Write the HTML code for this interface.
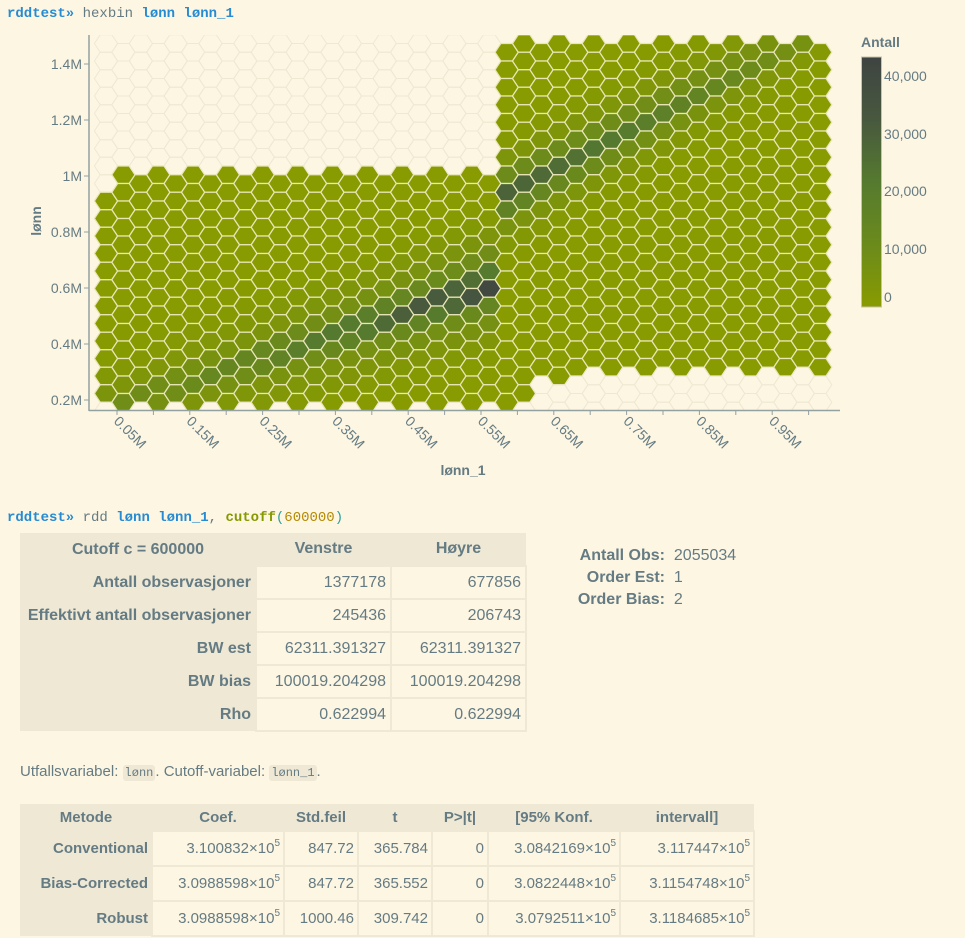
<!DOCTYPE html>
<html><head><meta charset="utf-8">
<style>
body{margin:0;background:#fdf6e3;width:965px;height:938px;overflow:hidden;font-family:"Liberation Sans",sans-serif;color:#657b83;position:relative}
.prompt{position:absolute;left:7px;font-family:"Liberation Mono",monospace;font-size:14px;white-space:pre}
.b{color:#268bd2;font-weight:bold}
.pr{color:#268bd2;font-weight:bold}
table{border-collapse:collapse;position:absolute;table-layout:fixed}
td,th{padding:0 6px;font-size:16px;white-space:nowrap;overflow:hidden}
#t1{left:20px;top:533px;width:506px}
#t1 th{background:#eee8d5;font-weight:600;height:32px;text-align:center}
#t1 td{height:31px;border:2px solid #eee8d5;text-align:right;background:#fdf6e3;padding:0 4px}
#t1 td.l{background:#eee8d5;font-weight:600;border:none}
#t2{left:20px;top:804px;width:734px}
#t2 th{background:#eee8d5;font-weight:600;height:26px;text-align:center;font-size:15px}
#t2 td{height:33px;border:2px solid #eee8d5;text-align:right;background:#fdf6e3;font-size:15px;padding:0 3px}
#t2 td.l{background:#eee8d5;font-weight:600;border:none}
sup{font-size:10px;vertical-align:7px;line-height:0}
code{background:#eee8d5;font-family:"Liberation Mono",monospace;font-size:12px;padding:1px 2px;border-radius:3px}
</style></head><body>
<div class="prompt" style="top:6px"><span class="pr">rddtest»</span> hexbin <span class="b">lønn lønn_1</span></div>
<svg id="plot" width="965" height="500" style="position:absolute;left:0;top:0">
<defs>
<clipPath id="cp"><rect x="90" y="35" width="750" height="375"/></clipPath>
<linearGradient id="cb" x1="0" y1="1" x2="0" y2="0">
<stop offset="0" stop-color="#889b00"/><stop offset="0.25" stop-color="#6b8a1c"/><stop offset="0.5" stop-color="#557a2f"/><stop offset="0.75" stop-color="#48583e"/><stop offset="1" stop-color="#3e4442"/>
</linearGradient>
</defs>
<g id="hex" clip-path="url(#cp)"></g>
<line x1="89" y1="35" x2="89" y2="411" stroke="#93a1a1" stroke-width="1.5"/>
<line x1="89" y1="410.5" x2="840" y2="410.5" stroke="#93a1a1" stroke-width="1.5"/>
<g id="ticks" font-size="14" fill="#657b83" font-family="Liberation Sans, sans-serif"></g>
<text x="0" y="0" transform="translate(41,221) rotate(-90)" text-anchor="middle" font-size="14" font-weight="bold" fill="#657b83">lønn</text>
<text x="463" y="475" text-anchor="middle" font-size="14" font-weight="bold" fill="#657b83">lønn_1</text>
<text x="861" y="47" font-size="14" font-weight="bold" fill="#657b83">Antall</text>
<rect x="861.5" y="57" width="20" height="250" fill="url(#cb)" stroke="#c9c1a9"/>
<g font-size="14" fill="#657b83">
<text x="884" y="81">40,000</text><text x="884" y="139">30,000</text><text x="884" y="196">20,000</text><text x="884" y="254">10,000</text><text x="884" y="302">0</text>
</g>
</svg>
<div class="prompt" style="top:510px"><span class="pr">rddtest»</span> rdd <span class="b">lønn lønn_1</span>, <span style="color:#859900;font-weight:bold">cutoff</span><span style="color:#2aa198">(</span><span style="color:#b58900">600000</span><span style="color:#2aa198">)</span></div>
<table id="t1">
<colgroup><col style="width:236px"><col style="width:135px"><col style="width:135px"></colgroup>
<tr><th>Cutoff c = 600000</th><th>Venstre</th><th>Høyre</th></tr>
<tr><td class="l">Antall observasjoner</td><td>1377178</td><td>677856</td></tr>
<tr><td class="l">Effektivt antall observasjoner</td><td>245436</td><td>206743</td></tr>
<tr><td class="l">BW est</td><td>62311.391327</td><td>62311.391327</td></tr>
<tr><td class="l">BW bias</td><td>100019.204298</td><td>100019.204298</td></tr>
<tr><td class="l">Rho</td><td>0.622994</td><td>0.622994</td></tr>
</table>
<div style="position:absolute;left:560px;top:545px;font-size:16px;line-height:22px">
<div><span style="display:inline-block;width:105px;text-align:right;font-weight:600">Antall Obs:</span> &nbsp;2055034</div>
<div><span style="display:inline-block;width:105px;text-align:right;font-weight:600">Order Est:</span> &nbsp;1</div>
<div><span style="display:inline-block;width:105px;text-align:right;font-weight:600">Order Bias:</span> &nbsp;2</div>
</div>
<div style="position:absolute;left:20px;top:763px;font-size:15px">Utfallsvariabel: <code>lønn</code>. Cutoff-variabel: <code>lønn_1</code>.</div>
<table id="t2">
<colgroup><col style="width:132px"><col style="width:132px"><col style="width:74px"><col style="width:74px"><col style="width:56px"><col style="width:132px"><col style="width:134px"></colgroup>
<tr><th>Metode</th><th>Coef.</th><th>Std.feil</th><th>t</th><th>P&gt;|t|</th><th>[95% Konf.</th><th>intervall]</th></tr>
<tr><td class="l">Conventional</td><td>3.100832×10<sup>5</sup></td><td>847.72</td><td>365.784</td><td>0</td><td>3.0842169×10<sup>5</sup></td><td>3.117447×10<sup>5</sup></td></tr>
<tr><td class="l">Bias-Corrected</td><td>3.0988598×10<sup>5</sup></td><td>847.72</td><td>365.552</td><td>0</td><td>3.0822448×10<sup>5</sup></td><td>3.1154748×10<sup>5</sup></td></tr>
<tr><td class="l">Robust</td><td>3.0988598×10<sup>5</sup></td><td>1000.46</td><td>309.742</td><td>0</td><td>3.0792511×10<sup>5</sup></td><td>3.1184685×10<sup>5</sup></td></tr>
</table>
<script>
(function(){
var NS="http://www.w3.org/2000/svg";
var g=document.getElementById("hex");
var stops=[[0,[0x88,0x9b,0x00]],[0.25,[0x6b,0x8a,0x1c]],[0.5,[0x55,0x7a,0x2f]],[0.75,[0x48,0x58,0x3e]],[1,[0x3e,0x44,0x42]]];
function col(t){t=Math.max(0,Math.min(1,t));for(var i=1;i<stops.length;i++){if(t<=stops[i][0]){var a=stops[i-1],b=stops[i],f=(t-a[0])/(b[0]-a[0]);return "rgb("+[0,1,2].map(function(k){return Math.round(a[1][k]+(b[1][k]-a[1][k])*f)}).join(",")+")";}}return "rgb(62,68,66)";}
function dist(x,y,x1,y1,x2,y2){var dx=x2-x1,dy=y2-y1,L=Math.sqrt(dx*dx+dy*dy);return Math.abs((x-x1)*dy-(y-y1)*dx)/L;}
function val(cx,cy,c){
 if(c<=22){var d=dist(cx,cy,200,378,507,280);var p=Math.max(0,(cx-90)/417);var A=0.2+0.82*Math.pow(p,1.7);
  return A*(0.65*Math.exp(-d*d/(2*9*9))+0.35*Math.exp(-d*d/(2*30*30)));}
 else{var d=dist(cx,cy,524,186,800,40);var A=0.66-0.5*(cx-524)/276;
  return A*(0.65*Math.exp(-d*d/(2*9*9))+0.35*Math.exp(-d*d/(2*24*24)));}
}
var hw=11.6,q=5.8,hh=8.75;
for(var c=0;c<42;c++){
 var cx=106+c*17.42,odd=c%2;
 for(var r=0;r<22;r++){
  var cy=odd?52.25+17.5*r:43.5+17.5*r;
  if(cy-hh>411)continue;
  var green;
  if(c<=22){var top=c==0?9:(odd?7:8);green=r>=top&&r<=20;}
  else{var bot=(c==23||c==24)?20:(c==26?19:18);green=r<=bot;}
  var p=document.createElementNS(NS,"polygon");
  p.setAttribute("points",[(cx-hw)+","+cy,(cx-q)+","+(cy-hh),(cx+q)+","+(cy-hh),(cx+hw)+","+cy,(cx+q)+","+(cy+hh),(cx-q)+","+(cy+hh)].join(" "));
  if(green){p.setAttribute("fill",col(val(cx,cy,c)));p.setAttribute("stroke","#e9e6b8");p.setAttribute("stroke-width","1.2");}
  else{p.setAttribute("fill","none");p.setAttribute("stroke","#efe8d3");p.setAttribute("stroke-width","1");}
  g.appendChild(p);
 }
}
var t=document.getElementById("ticks");
var yl=[["1.4M",64],["1.2M",120],["1M",176],["0.8M",232],["0.6M",288],["0.4M",344],["0.2M",400]];
yl.forEach(function(a){var l=document.createElementNS(NS,"line");l.setAttribute("x1",84);l.setAttribute("x2",89);l.setAttribute("y1",a[1]);l.setAttribute("y2",a[1]);l.setAttribute("stroke","#93a1a1");t.appendChild(l);
 var s=document.createElementNS(NS,"text");s.setAttribute("x",82);s.setAttribute("y",a[1]+5);s.setAttribute("text-anchor","end");s.textContent=a[0];t.appendChild(s);});
for(var i=0;i<20;i++){var x=117+i*36.4;var l=document.createElementNS(NS,"line");l.setAttribute("x1",x);l.setAttribute("x2",x);l.setAttribute("y1",410);l.setAttribute("y2",415);l.setAttribute("stroke","#93a1a1");t.appendChild(l);
 if(i%2==0){var s=document.createElementNS(NS,"text");s.setAttribute("transform","translate("+(x-4)+",422) rotate(45)");s.textContent=(0.05+i*0.05).toFixed(2)+"M";t.appendChild(s);}}
})();
</script>
</body></html>
